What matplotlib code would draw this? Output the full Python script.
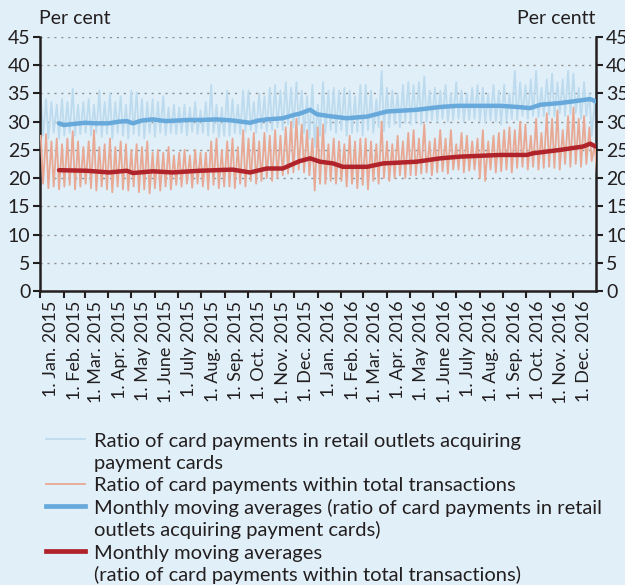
import pandas as pd
import matplotlib.pyplot as plt
from matplotlib.lines import Line2D

# ─────────────────────────────────────────────
#  Card payments share, daily 2015-2016
#  Weekly highs / lows and monthly moving
#  averages
# ─────────────────────────────────────────────

# ── Ratio of card payments in retail outlets acquiring cards (weekly high / low) ──
retail_high = [
    34.5, 34.0, 33.5, 33.0, 34.0,   # Jan 2015
    33.5, 35.8, 33.0, 33.5,         # Feb
    34.0, 33.0, 35.5, 33.5,         # Mar
    35.0, 33.5, 34.5, 33.0, 35.5,   # Apr
    35.2, 34.0, 33.5, 34.0,         # May
    33.5, 34.5, 32.5, 33.0,         # June
    32.5, 33.0, 32.5, 33.5, 32.0,   # July
    33.5, 36.5, 33.0, 32.5,         # Aug
    35.5, 34.0, 33.0, 35.5,         # Sep
    35.5, 33.5, 35.0, 34.5, 36.0,   # Oct
    36.5, 35.5, 37.0, 36.0,         # Nov
    37.0, 35.5, 34.5, 36.5, 33.0,   # Dec
    37.0, 35.5, 36.0, 35.5,         # Jan 2016
    36.0, 35.5, 34.5, 36.5,         # Feb
    36.5, 35.5, 34.0, 39.0,         # Mar
    36.0, 35.5, 35.0, 36.5, 37.0,   # Apr
    36.5, 37.0, 38.0, 35.5,         # May
    36.0, 35.5, 36.5, 35.0,         # June
    37.0, 35.5, 35.0, 36.0, 36.5,   # July
    36.0, 35.0, 36.5, 35.5,         # Aug
    36.5, 35.0, 39.0, 37.0,         # Sep
    36.5, 37.5, 39.0, 36.0, 37.5,   # Oct
    38.5, 37.0, 37.5, 39.0,         # Nov
    38.5, 36.0, 37.0, 35.0, 33.5,   # Dec
]
retail_low = [
    27.5, 27.0, 28.0, 27.0, 27.5,
    28.0, 27.5, 27.8, 28.0,
    27.5, 28.0, 27.3, 27.8,
    27.0, 28.0, 27.5, 27.0, 27.8,
    27.5, 27.0, 28.0, 27.3,
    28.0, 27.5, 28.0, 27.8,
    28.0, 27.5, 28.2, 27.8, 28.0,
    27.5, 28.0, 27.2, 27.5,
    27.5, 28.0, 27.8, 28.2,
    28.5, 28.0, 28.8, 28.3, 28.5,
    29.0, 28.5, 29.5, 29.0,
    29.5, 28.0, 27.0, 25.5, 27.5,
    28.0, 28.5, 28.0, 28.5,
    27.5, 28.0, 28.2, 27.5,
    28.5, 28.0, 29.0, 28.3,
    29.0, 29.5, 29.0, 29.8, 29.5,
    30.0, 29.5, 30.0, 30.3,
    30.0, 30.5, 30.0, 30.3,
    30.5, 30.0, 30.3, 30.5, 30.0,
    29.8, 30.2, 30.0, 29.5,
    30.0, 30.5, 30.3, 31.0,
    30.5, 31.0, 30.8, 31.0, 31.2,
    31.0, 31.5, 31.0, 31.3,
    31.5, 30.5, 31.0, 27.5, 27.0,
]

# ── Ratio of card payments within total transactions (weekly high / low) ──
total_high = [
    27.5, 27.8, 26.5, 27.0, 26.0,
    27.0, 28.3, 26.5, 25.5,
    26.5, 28.5, 25.5, 26.0,
    27.0, 25.5, 26.5, 26.0, 25.0,
    26.0, 25.5, 26.5, 24.5,
    25.0, 24.5, 25.5, 24.0,
    24.5, 25.0, 24.0, 25.0, 24.5,
    24.5, 26.5, 27.0, 25.0,
    26.5, 27.0, 25.5, 28.5,
    27.0, 28.0, 26.5, 28.0, 27.5,
    28.5, 27.5, 29.0, 30.0,
    30.5, 29.5, 28.5, 27.0, 29.0,
    29.5, 26.0, 27.0, 26.5,
    26.0, 27.5, 26.5, 27.0,
    27.0, 26.5, 26.0, 30.0,
    26.5, 26.0, 27.5, 26.5, 28.0,
    28.5, 27.0, 29.5, 26.5,
    27.0, 28.5, 27.0, 28.5,
    26.0, 28.0, 27.5, 26.5, 27.0,
    28.5, 26.5, 27.5, 28.0,
    28.5, 29.0, 28.5, 30.0,
    29.5, 27.5, 30.5, 28.0, 31.5,
    30.5, 32.0, 28.5, 31.0,
    32.5, 30.5, 31.0, 29.0, 26.0,
]
total_low = [
    19.0, 18.2, 18.5, 18.0, 18.5,
    18.8, 18.0, 18.5, 19.0,
    18.2, 17.8, 18.5, 18.0,
    17.5, 18.5, 18.0, 17.8, 18.5,
    17.5, 18.0, 17.3, 18.2,
    17.8, 18.5, 18.0, 18.8,
    18.5, 19.0, 18.3, 19.0, 18.5,
    18.0, 18.8, 18.2, 18.5,
    18.5, 18.2, 19.0, 18.5,
    19.5, 19.0, 19.5, 20.0, 19.5,
    20.0, 20.5, 20.8, 21.0,
    21.5, 21.0, 20.5, 17.8, 19.0,
    19.0, 19.5, 19.0, 19.5,
    18.5, 19.0, 18.2, 18.8,
    18.0, 19.5, 19.0, 20.0,
    19.5, 20.0, 20.5, 20.0, 20.5,
    20.5, 20.8, 21.0, 20.5,
    21.0, 21.2, 20.8, 21.5,
    21.5, 21.0, 21.3, 21.5, 20.0,
    19.5, 21.5, 21.0, 21.2,
    21.5, 21.0, 21.8, 22.0,
    21.5, 22.0, 21.5, 21.8, 22.0,
    21.8, 21.5, 22.5, 22.0,
    22.5, 22.0, 22.5, 23.0, 20.5,
]

# ── Monthly moving averages ──────────────────
ma_retail_dates = [
    "2015-01-26", "2015-02-01", "2015-02-15", "2015-03-01", "2015-03-15",
    "2015-04-01", "2015-04-15", "2015-04-25", "2015-05-03", "2015-05-15",
    "2015-05-29", "2015-06-15", "2015-07-01", "2015-07-15", "2015-08-01",
    "2015-08-21", "2015-09-01", "2015-09-11", "2015-10-04", "2015-10-15",
    "2015-10-26", "2015-11-16", "2015-12-01", "2015-12-08", "2015-12-22",
    "2015-12-31", "2016-01-15", "2016-01-21", "2016-02-08", "2016-03-06",
    "2016-04-01", "2016-05-10", "2016-06-10", "2016-07-02", "2016-08-05",
    "2016-08-28", "2016-09-19", "2016-10-06", "2016-10-20", "2016-11-15",
    "2016-12-02", "2016-12-24", "2016-12-31",
]
ma_retail = [
    29.7, 29.4, 29.6, 29.8, 29.7,
    29.7, 30.0, 30.1, 29.7, 30.2,
    30.4, 30.1, 30.2, 30.3, 30.3,
    30.4, 30.3, 30.2, 29.8, 30.2,
    30.4, 30.6, 31.2, 31.4, 32.1,
    31.3, 31.0, 30.9, 30.6, 30.9,
    31.8, 32.1, 32.6, 32.8, 32.8,
    32.8, 32.6, 32.4, 33.0, 33.3,
    33.6, 34.0, 33.6,
]

ma_total_dates = [
    "2015-01-26", "2015-03-03", "2015-04-02", "2015-04-25", "2015-05-03",
    "2015-05-29", "2015-06-24", "2015-07-30", "2015-09-11", "2015-10-04",
    "2015-10-26", "2015-11-16", "2015-12-08", "2015-12-22", "2016-01-04",
    "2016-01-21", "2016-02-03", "2016-03-06", "2016-03-27", "2016-05-10",
    "2016-06-10", "2016-07-06", "2016-08-28", "2016-10-02", "2016-10-10",
    "2016-11-15", "2016-12-15", "2016-12-24", "2016-12-31",
]
ma_total = [
    21.4, 21.3, 21.0, 21.3, 20.9,
    21.2, 21.0, 21.3, 21.5, 21.0,
    21.7, 21.7, 23.0, 23.5, 22.9,
    22.6, 22.0, 22.0, 22.6, 22.9,
    23.5, 23.8, 24.1, 24.1, 24.4,
    25.0, 25.6, 26.1, 25.6,
]

month_labels = [
    "1. Jan. 2015", "1. Feb. 2015", "1. Mar. 2015", "1. Apr. 2015",
    "1. May 2015", "1. June 2015", "1. July 2015", "1. Aug. 2015",
    "1. Sep. 2015", "1. Oct. 2015", "1. Nov. 2015", "1. Dec. 2015",
    "1. Jan. 2016", "1. Feb. 2016", "1. Mar. 2016", "1. Apr. 2016",
    "1. May 2016", "1. June 2016", "1. July 2016", "1. Aug. 2016",
    "1. Sep. 2016", "1. Oct. 2016", "1. Nov. 2016", "1. Dec. 2016",
]

legend_labels = [
    "Ratio of card payments in retail outlets acquiring\npayment cards",
    "Ratio of card payments within total transactions",
    "Monthly moving averages (ratio of card payments in retail\noutlets acquiring payment cards)",
    "Monthly moving averages\n(ratio of card payments within total transactions)",
]

# ── Style ────────────────────────────────────
BG = "#e1eff8"
INK = "#231f20"
C_RETAIL_RAW = "#bddbee"
C_TOTAL_RAW = "#e8a893"
C_RETAIL_MA = "#68a9dc"
C_TOTAL_MA = "#b0232a"

plt.rcParams["font.family"] = ["Lato", "DejaVu Sans"]
plt.rcParams["text.color"] = INK


def zigzag(high, low):
    # peaks on Fridays, lows on the following Monday
    peaks = pd.date_range("2015-01-02", periods=len(high), freq="7D")
    lows = peaks + pd.Timedelta(days=3)
    s = pd.concat([pd.Series(high, index=peaks), pd.Series(low, index=lows)])
    return s.sort_index()


retail_raw = zigzag(retail_high, retail_low)
total_raw = zigzag(total_high, total_low)

# ── Figure ───────────────────────────────────
fig = plt.figure(figsize=(6.25, 5.85), dpi=100, facecolor=BG)
ax = fig.add_axes([0.064, 0.5026, 0.89, 0.4342], facecolor=BG)

ax.plot(retail_raw.index, retail_raw.values, color=C_RETAIL_RAW, lw=1.3, zorder=2)
ax.plot(total_raw.index, total_raw.values, color=C_TOTAL_RAW, lw=1.3, zorder=3)
ax.plot(pd.to_datetime(ma_retail_dates), ma_retail, color=C_RETAIL_MA, lw=3.2,
        solid_capstyle="round", zorder=4)
ax.plot(pd.to_datetime(ma_total_dates), ma_total, color=C_TOTAL_MA, lw=3.2,
        solid_capstyle="round", zorder=5)

# ── Axes ─────────────────────────────────────
ax.set_ylim(0, 45)
ax.set_yticks(range(0, 46, 5))
ax.set_xlim(pd.Timestamp("2015-01-01"), pd.Timestamp("2017-01-01"))

month_starts = pd.date_range("2015-01-01", periods=24, freq="MS")
ax.set_xticks(month_starts)
ax.set_xticklabels([])
ax.set_xticks(month_starts + pd.Timedelta(days=15), minor=True)
ax.set_xticklabels(month_labels, minor=True, rotation=90, va="top", ha="center")
ax.tick_params(axis="x", which="major", length=5, width=1.5, color=INK, direction="out")
ax.tick_params(axis="x", which="minor", length=0, pad=7, labelsize=13, labelcolor=INK)
ax.tick_params(axis="y", length=5, width=1.5, color=INK, direction="out",
               left=True, right=True, labelleft=True, labelright=True,
               labelsize=14, labelcolor=INK, pad=2)

for side in ["left", "right", "bottom"]:
    ax.spines[side].set_color(INK)
    ax.spines[side].set_linewidth(1.8)
ax.spines["top"].set_visible(False)

ax.grid(axis="y", color="#8f8f8f", linestyle=(0, (1.5, 3.5)), linewidth=1.0)
ax.set_axisbelow(True)

fig.text(0.063, 0.953, "Per cent", ha="left", va="bottom", fontsize=14)
fig.text(0.953, 0.953, "Per centt", ha="right", va="bottom", fontsize=14)

# ── Legend (drawn by hand, handle next to first text line) ──
handles = [
    (C_RETAIL_RAW, 1.3),
    (C_TOTAL_RAW, 1.3),
    (C_RETAIL_MA, 3.4),
    (C_TOTAL_MA, 3.4),
]
W, H = 625, 585
line_h = 22.4
y = 439
for (color, lw), label in zip(handles, legend_labels):
    fy = 1 - y / H
    fig.add_artist(Line2D([46 / W, 85 / W], [fy, fy], color=color, lw=lw))
    for i, part in enumerate(label.split("\n")):
        base = y + 7.5 + i * line_h
        fig.text(94 / W, 1 - base / H, part, ha="left", va="baseline", fontsize=14.5)
    y += line_h * (label.count("\n") + 1)

fig.savefig("out.png", dpi=100, facecolor=BG)
